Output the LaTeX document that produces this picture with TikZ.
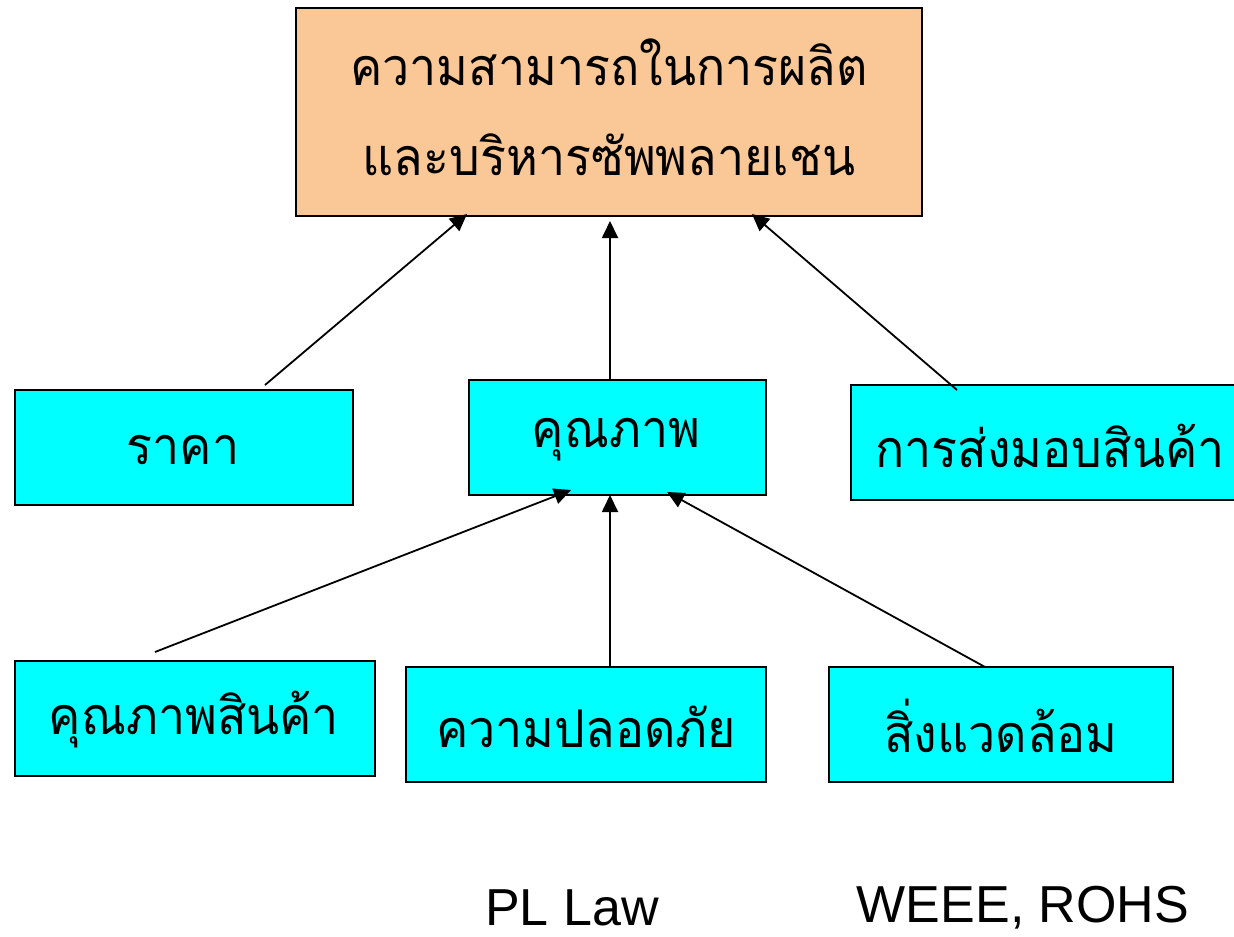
\documentclass[tikz,border=0pt]{standalone}
\usepackage{fontspec}
\usepackage{graphicx}
\newfontfamily\thaifont[Script=Thai]{Loma}
\setsansfont{Liberation Sans}
\usetikzlibrary{arrows.meta}
\definecolor{boxorange}{RGB}{250,200,150}
\definecolor{boxcyan}{RGB}{0,255,255}
\newcommand\thtext[1]{\scalebox{0.93}[1]{#1}}
\tikzset{
  box/.style={draw=black, line width=1pt, fill=boxcyan},
  topbox/.style={draw=black, line width=1pt, fill=boxorange},
  thai/.style={font=\thaifont\fontsize{26pt}{32pt}\selectfont, inner sep=0pt},
  latin/.style={font=\sffamily\fontsize{26pt}{30pt}\selectfont, inner sep=0pt},
  conn/.style={line width=0.9pt, -{Triangle[length=8.5pt,width=8pt]}}
}
\begin{document}
\begin{tikzpicture}[x=0.5pt,y=-0.5pt]
\useasboundingbox (0,0) rectangle (1234,936);
\fill[white] (0,0) rectangle (1234,936);
\begin{scope}
\clip (0,0) rectangle (1234,936);
% boxes
\draw[topbox] (296,8) rectangle (922,216);
\draw[box] (15,390) rectangle (353,505);
\draw[box] (469,380) rectangle (766,495);
\draw[box] (851,385) rectangle (1250,500);
\draw[box] (15,661) rectangle (375,776);
\draw[box] (406,667) rectangle (766,782);
\draw[box] (829,667) rectangle (1173,782);
% texts
\node[thai] (t1) at (609,62) {\thtext{ความสามารถในการผลิต}};
\node[thai] (t2) at (609,155) {\thtext{และบริหารซัพพลายเชน}};
\node[thai] (raka) at (183,450) {\thtext{ราคา}};
\node[thai] (qual) at (616,440) {\thtext{คุณภาพ}};
\node[thai] (deliv) at (1050,446) {\thtext{การส่งมอบสินค้า}};
\node[thai] (pq) at (194,720) {\thtext{คุณภาพสินค้า}};
\node[thai] (safe) at (586,727) {\thtext{ความปลอดภัย}};
\node[thai] (env) at (1001,726) {\thtext{สิ่งแวดล้อม}};
\end{scope}
\node[latin] (pl) at (572,908) {PL Law};
\node[latin] (weee) at (1023,908) {WEEE, ROHS};
% connector points
\coordinate (a1s) at (265,385); \coordinate (a1e) at (467,214);
\coordinate (a2s) at (610,380); \coordinate (a2e) at (610,221);
\coordinate (a3s) at (957,390); \coordinate (a3e) at (752,214);
\coordinate (b1s) at (155,652); \coordinate (b1e) at (571,490);
\coordinate (b2s) at (610,667); \coordinate (b2e) at (610,495);
\coordinate (b3s) at (985,667); \coordinate (b3e) at (667,492);
\draw[conn] (a1s) -- (a1e);
\draw[conn] (a2s) -- (a2e);
\draw[conn] (a3s) -- (a3e);
\draw[conn] (b1s) -- (b1e);
\draw[conn] (b2s) -- (b2e);
\draw[conn] (b3s) -- (b3e);
\end{tikzpicture}
\end{document}
